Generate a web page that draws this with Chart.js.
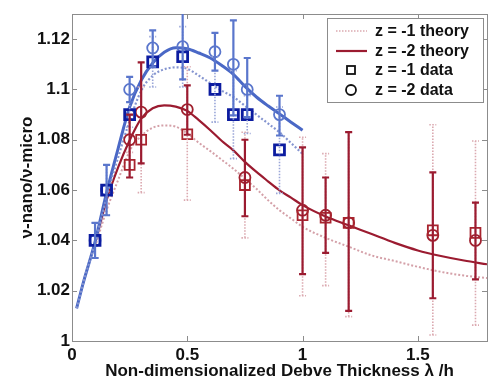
<!DOCTYPE html>
<html><head><meta charset="utf-8">
<style>html,body{margin:0;padding:0;background:#fff}</style>
<script src="https://cdn.jsdelivr.net/npm/chart.js@4/dist/chart.umd.min.js"></script>
</head><body>
<canvas id="c" width="503" height="391"></canvas>
<script>
// ---- data ----
const xTicks = [0, 0.5, 1, 1.5];
const yTicks = [1, 1.02, 1.04, 1.06, 1.08, 1.1, 1.12];

const blueTheoryX = [0.02,0.05,0.1,0.15,0.2,0.25,0.3,0.35,0.4,0.45,0.5,0.55,0.6,0.65,0.7,0.75,0.8,0.85,0.9,0.95,1.0];
const blueSolid   = [1.013,1.0235,1.0394,1.059,1.0765,1.093,1.1036,1.1105,1.1148,1.1166,1.1162,1.1145,1.1125,1.1095,1.106,1.1012,1.097,1.0935,1.0903,1.087,1.0838];
const blueDotted  = [1.013,1.0235,1.039,1.057,1.073,1.0875,1.0995,1.1055,1.108,1.1088,1.1082,1.1055,1.1025,1.0995,1.097,1.0935,1.090,1.0865,1.083,1.0787,1.0744];

const redTheoryX = [0.1,0.15,0.2,0.25,0.3,0.35,0.4,0.45,0.5,0.55,0.6,0.65,0.7,0.75,0.8,0.85,0.9,0.95,1.0,1.1,1.2,1.3,1.4,1.5,1.6,1.7,1.8];
const redSolid   = [1.0385,1.056,1.069,1.0798,1.0884,1.0925,1.0937,1.0932,1.0915,1.0878,1.0838,1.0795,1.0758,1.0712,1.0672,1.0635,1.0599,1.057,1.054,1.0495,1.046,1.0425,1.039,1.036,1.0338,1.032,1.0305];
const redDotted  = [1.0375,1.052,1.064,1.0755,1.0815,1.0848,1.0857,1.0852,1.0825,1.0788,1.0755,1.072,1.0685,1.0645,1.0605,1.056,1.052,1.0487,1.0454,1.041,1.0375,1.034,1.0318,1.0295,1.0275,1.026,1.025];

const blueX    = [0.10,0.15,0.25,0.35,0.48,0.62,0.70,0.76,0.90];
const blueSq   = [1.040,1.060,1.090,1.111,1.113,1.100,1.090,1.090,1.076];
const blueSqLo = [1.033,1.050,1.085,1.101,1.101,1.087,1.0725,1.0825,1.0587];
const blueSqHi = [1.047,1.070,1.095,1.121,1.125,1.113,1.1075,1.0975,1.093];
const blueCi   = [1.040,1.060,1.100,1.1165,1.117,1.115,1.110,1.100,1.090];
const blueCiLo = [1.033,1.050,1.095,1.109,1.104,1.1075,1.0897,1.089,1.0817];
const blueCiHi = [1.047,1.070,1.105,1.1235,1.135,1.1225,1.1275,1.1125,1.0975];

const redX    = [0.25,0.30,0.50,0.75,1.00,1.10,1.20,1.565,1.75];
const redSq   = [1.070,1.080,1.0822,1.062,1.050,1.049,1.047,1.044,1.043];
const redSqLo = [1.065,1.059,1.056,1.041,1.018,1.022,1.0097,1.0024,1.0063];
const redSqHi = [1.075,1.101,1.109,1.083,1.081,1.0745,1.083,1.086,1.0795];
const redCi   = [1.080,1.091,1.092,1.065,1.052,1.050,1.047,1.042,1.040];
const redCiLo = [1.065,1.0706,1.082,1.0496,1.0266,1.035,1.012,1.017,1.0245];
const redCiHi = [1.090,1.1108,1.1016,1.080,1.077,1.065,1.083,1.067,1.055];

const legendLabels = ['z = -1 theory','z = -2 theory','z = -1 data','z = -2 data'];

// ---- helpers ----
const pts = (xs, ys) => xs.map((x,i)=>({x:x, y:ys[i]}));
const C = {
  blueLine:'#4a68c6', blueDot:'#8595d0', blueSq:'#0c1ca0', blueCi:'#5a76cc', blueSqBar:'#9aa6d8',
  redLine:'#9b1b30', redDot:'#d4a0a8', redSq:'#a8242e', redCi:'#a0202e', redSqBar:'#dba9b0'
};
const FONT = '"Liberation Sans", Arial, sans-serif';

const lineDS = (label, xs, ys, color, width, dash) => ({
  label, data: pts(xs, ys), showLine:true, borderColor:color, borderWidth:width,
  borderDash: dash || [], pointRadius:0, cubicInterpolationMode:'monotone', fill:false, order:5
});
const markDS = (label, xs, ys, color, style, r, bw) => ({
  label, data: pts(xs, ys), showLine:false, pointStyle:style, pointRadius:r, pointHoverRadius:r,
  borderColor:color, backgroundColor:'rgba(0,0,0,0)', pointBorderWidth:bw, borderWidth:bw, order:1
});

const errorSets = [
  {xs:blueX, lo:blueSqLo, hi:blueSqHi, color:C.blueSqBar, w:1.6, dash:[1.5,1.5]},
  {xs:redX,  lo:redSqLo,  hi:redSqHi,  color:C.redSqBar,  w:1.6, dash:[1.5,1.5]},
  {xs:blueX, lo:blueCiLo, hi:blueCiHi, color:C.blueCi,    w:2.2, dash:[]},
  {xs:redX,  lo:redCiLo,  hi:redCiHi,  color:C.redLine,   w:2.2, dash:[]}
];

const decor = {
  id:'decor',
  beforeDatasetsDraw(chart){
    const {ctx, chartArea:a, scales:{x, y}} = chart;
    ctx.save();
    ctx.strokeStyle = '#8c8c8c'; ctx.lineWidth = 1;
    ctx.strokeRect(a.left+0.5, a.top+0.5, a.right-a.left, a.bottom-a.top);
    const L = 5;
    ctx.beginPath();
    xTicks.forEach(v=>{ const p=Math.round(x.getPixelForValue(v))+0.5;
      ctx.moveTo(p,a.bottom); ctx.lineTo(p,a.bottom-L); ctx.moveTo(p,a.top); ctx.lineTo(p,a.top+L); });
    yTicks.forEach(v=>{ const p=Math.round(y.getPixelForValue(v))+0.5;
      ctx.moveTo(a.left,p); ctx.lineTo(a.left+L,p); ctx.moveTo(a.right,p); ctx.lineTo(a.right-L,p); });
    ctx.stroke();
    ctx.restore();
  },
  afterDatasetsDraw(chart){
    const {ctx, chartArea:a, scales:{x, y}} = chart;
    ctx.save();
    ctx.beginPath(); ctx.rect(a.left, a.top, a.right-a.left, a.bottom-a.top); ctx.clip();
    errorSets.forEach(s=>{
      ctx.strokeStyle = s.color; ctx.lineWidth = s.w; ctx.setLineDash(s.dash);
      s.xs.forEach((xv,i)=>{
        const px = x.getPixelForValue(xv), p1 = y.getPixelForValue(s.lo[i]), p2 = y.getPixelForValue(s.hi[i]);
        ctx.beginPath();
        ctx.moveTo(px,p1); ctx.lineTo(px,p2);
        ctx.moveTo(px-3.5,p1); ctx.lineTo(px+3.5,p1);
        ctx.moveTo(px-3.5,p2); ctx.lineTo(px+3.5,p2);
        ctx.stroke();
      });
    });
    ctx.restore();
    // legend
    ctx.save();
    const bx=327, by=18, bw=156, bh=84;
    ctx.fillStyle='#fff'; ctx.fillRect(bx,by,bw,bh);
    ctx.strokeStyle='#8c8c8c'; ctx.lineWidth=1; ctx.strokeRect(bx+0.5,by+0.5,bw,bh);
    const rows=[31,51,70,90];
    ctx.lineWidth=1.6; ctx.setLineDash([1.5,1.5]); ctx.strokeStyle=C.redSqBar;
    ctx.beginPath(); ctx.moveTo(336,rows[0]); ctx.lineTo(367,rows[0]); ctx.stroke();
    ctx.setLineDash([]); ctx.lineWidth=2.2; ctx.strokeStyle=C.redLine;
    ctx.beginPath(); ctx.moveTo(336,rows[1]); ctx.lineTo(367,rows[1]); ctx.stroke();
    ctx.strokeStyle='#111'; ctx.lineWidth=1.8;
    ctx.strokeRect(347,rows[2]-4,8,8);
    ctx.beginPath(); ctx.arc(351,rows[3],5,0,Math.PI*2); ctx.stroke();
    ctx.fillStyle='#111'; ctx.font='bold 16px '+FONT; ctx.textBaseline='middle'; ctx.textAlign='left';
    legendLabels.forEach((t,i)=>ctx.fillText(t,375,rows[i]+1));
    ctx.restore();
  }
};

new Chart(document.getElementById('c'), {
  type:'scatter',
  data:{ datasets:[
    lineDS('blue z=-1 theory', blueTheoryX, blueDotted, C.blueDot, 2.2, [2,2]),
    lineDS('blue z=-2 theory', blueTheoryX, blueSolid, C.blueLine, 3, []),
    lineDS('red z=-1 theory', redTheoryX, redDotted, C.redDot, 2, [2,2]),
    lineDS('red z=-2 theory', redTheoryX, redSolid, C.redLine, 2.2, []),
    markDS('blue z=-1 data', blueX, blueSq, C.blueSq, 'rect', 7, 2.8),
    markDS('blue z=-2 data', blueX, blueCi, C.blueCi, 'circle', 5.5, 1.8),
    markDS('red z=-1 data', redX, redSq, C.redSq, 'rect', 7, 1.8),
    markDS('red z=-2 data', redX, redCi, C.redCi, 'circle', 5.5, 1.8)
  ]},
  options:{
    responsive:false, animation:false, devicePixelRatio:1,
    layout:{padding:{left:0, right:16, top:14, bottom:0}},
    plugins:{legend:{display:false}, tooltip:{enabled:false}},
    scales:{
      x:{ type:'linear', min:0, max:1.8,
        afterBuildTicks(s){ s.ticks = xTicks.map(v=>({value:v})); },
        afterFit(s){ s.height = 50; },
        grid:{display:false, drawTicks:false}, border:{display:false},
        ticks:{ padding:4, color:'#111', font:{family:FONT, size:17, weight:'bold'}, maxRotation:0,
          callback:v=>String(+v.toFixed(2)) },
        title:{ display:true, text:'Non-dimensionalized Debve Thickness λ /h', color:'#111',
          font:{family:FONT, size:17, weight:'bold'}, padding:{top:0, bottom:9} }
      },
      y:{ type:'linear', min:1, max:1.13,
        afterBuildTicks(s){ s.ticks = yTicks.map(v=>({value:v})); },
        afterFit(s){ s.width = 72; },
        grid:{display:false, drawTicks:false}, border:{display:false},
        ticks:{ padding:2, color:'#111', font:{family:FONT, size:17, weight:'bold'},
          callback:v=>String(+v.toFixed(2)) },
        title:{ display:true, text:'ν-nano/ν-micro', color:'#111',
          font:{family:FONT, size:17, weight:'bold'}, padding:{top:17, bottom:0} }
      }
    }
  },
  plugins:[decor]
});
</script>
</body></html>
